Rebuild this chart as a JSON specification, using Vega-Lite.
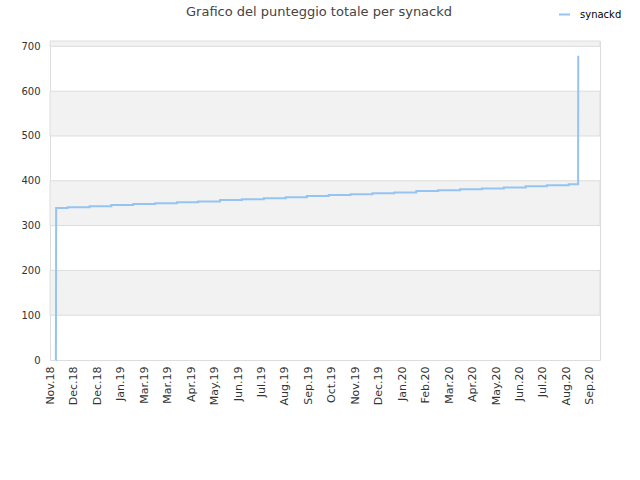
{
  "$schema": "https://vega.github.io/schema/vega-lite/v6.json",
  "width": 550,
  "height": 319,
  "autosize": {"type": "none"},
  "padding": {"left": 50, "top": 41, "right": 40, "bottom": 120},
  "background": "white",
  "title": {
    "text": "Grafico del punteggio totale per synackd",
    "font": "DejaVu Sans",
    "fontSize": 13,
    "fontWeight": "normal",
    "color": "#444444",
    "anchor": "middle",
    "baseline": "alphabetic",
    "offset": 0,
    "dy": 21,
    "dx": -6
  },
  "config": {
    "view": {"stroke": "#dddddd", "strokeWidth": 1},
    "font": "DejaVu Sans"
  },
  "datasets": {
    "bands": [
      {"lo": 100, "hi": 200},
      {"lo": 300, "hi": 400},
      {"lo": 500, "hi": 600},
      {"lo": 700, "hi": 712}
    ],
    "scores": [
      {"date": "2018-11-08T00:00:00", "score": 0, "player": "synackd"},
      {"date": "2018-11-08T01:00:00", "score": 42, "player": "synackd"},
      {"date": "2018-11-08T02:00:00", "score": 69, "player": "synackd"},
      {"date": "2018-11-08T03:00:00", "score": 98, "player": "synackd"},
      {"date": "2018-11-08T04:00:00", "score": 131, "player": "synackd"},
      {"date": "2018-11-08T05:00:00", "score": 167, "player": "synackd"},
      {"date": "2018-11-08T06:00:00", "score": 200, "player": "synackd"},
      {"date": "2018-11-08T07:00:00", "score": 247, "player": "synackd"},
      {"date": "2018-11-08T08:00:00", "score": 292, "player": "synackd"},
      {"date": "2018-11-08T09:00:00", "score": 339, "player": "synackd"},
      {"date": "2018-11-23T00:00:00", "score": 341, "player": "synackd"},
      {"date": "2018-12-21T00:00:00", "score": 343, "player": "synackd"},
      {"date": "2019-01-18T00:00:00", "score": 346, "player": "synackd"},
      {"date": "2019-02-15T00:00:00", "score": 348, "player": "synackd"},
      {"date": "2019-03-15T00:00:00", "score": 350, "player": "synackd"},
      {"date": "2019-04-12T00:00:00", "score": 352, "player": "synackd"},
      {"date": "2019-05-09T00:00:00", "score": 354, "player": "synackd"},
      {"date": "2019-06-06T00:00:00", "score": 357, "player": "synackd"},
      {"date": "2019-07-04T00:00:00", "score": 359, "player": "synackd"},
      {"date": "2019-08-01T00:00:00", "score": 361, "player": "synackd"},
      {"date": "2019-08-29T00:00:00", "score": 363, "player": "synackd"},
      {"date": "2019-09-25T00:00:00", "score": 366, "player": "synackd"},
      {"date": "2019-10-23T00:00:00", "score": 368, "player": "synackd"},
      {"date": "2019-11-20T00:00:00", "score": 370, "player": "synackd"},
      {"date": "2019-12-18T00:00:00", "score": 372, "player": "synackd"},
      {"date": "2020-01-15T00:00:00", "score": 374, "player": "synackd"},
      {"date": "2020-02-12T00:00:00", "score": 377, "player": "synackd"},
      {"date": "2020-03-11T00:00:00", "score": 379, "player": "synackd"},
      {"date": "2020-04-08T00:00:00", "score": 381, "player": "synackd"},
      {"date": "2020-05-06T00:00:00", "score": 383, "player": "synackd"},
      {"date": "2020-06-03T00:00:00", "score": 385, "player": "synackd"},
      {"date": "2020-07-01T00:00:00", "score": 388, "player": "synackd"},
      {"date": "2020-07-28T00:00:00", "score": 390, "player": "synackd"},
      {"date": "2020-08-25T00:00:00", "score": 392, "player": "synackd"},
      {"date": "2020-09-06T00:00:00", "score": 445, "player": "synackd"},
      {"date": "2020-09-06T01:00:00", "score": 497, "player": "synackd"},
      {"date": "2020-09-06T02:00:00", "score": 557, "player": "synackd"},
      {"date": "2020-09-06T03:00:00", "score": 617, "player": "synackd"},
      {"date": "2020-09-06T04:00:00", "score": 679, "player": "synackd"}
    ]
  },
  "layer": [
    {
      "data": {"name": "bands"},
      "mark": {"type": "rect", "fill": "#f2f2f2", "stroke": "#dddddd", "strokeWidth": 1},
      "encoding": {
        "y": {
          "field": "lo",
          "type": "quantitative",
          "scale": {"domain": [0, 712], "nice": false},
          "axis": {
            "title": null,
            "values": [0, 100, 200, 300, 400, 500, 600, 700],
            "labelPadding": 10,
            "labelFont": "DejaVu Sans",
            "labelFontSize": 10,
            "labelColor": "#333333",
            "ticks": false,
            "grid": false,
            "domain": false
          }
        },
        "y2": {"field": "hi"}
      }
    },
    {
      "data": {"name": "scores"},
      "mark": {"type": "line", "interpolate": "step-after", "strokeWidth": 2},
      "encoding": {
        "x": {
          "field": "date",
          "type": "temporal",
          "scale": {"domain": [
            {"year": 2018, "month": 10, "date": 31, "hours": 12},
            {"year": 2020, "month": 10, "date": 4}
          ]},
          "axis": {
            "title": null,
            "values": [
              {"year": 2018, "month": 11, "date": 1},
              {"year": 2018, "month": 12, "date": 1},
              {"year": 2018, "month": 12, "date": 31},
              {"year": 2019, "month": 1, "date": 30},
              {"year": 2019, "month": 3, "date": 1},
              {"year": 2019, "month": 3, "date": 31},
              {"year": 2019, "month": 4, "date": 30},
              {"year": 2019, "month": 5, "date": 30},
              {"year": 2019, "month": 6, "date": 29},
              {"year": 2019, "month": 7, "date": 29},
              {"year": 2019, "month": 8, "date": 28},
              {"year": 2019, "month": 9, "date": 27},
              {"year": 2019, "month": 10, "date": 27},
              {"year": 2019, "month": 11, "date": 26},
              {"year": 2019, "month": 12, "date": 26},
              {"year": 2020, "month": 1, "date": 25},
              {"year": 2020, "month": 2, "date": 24},
              {"year": 2020, "month": 3, "date": 25},
              {"year": 2020, "month": 4, "date": 24},
              {"year": 2020, "month": 5, "date": 24},
              {"year": 2020, "month": 6, "date": 23},
              {"year": 2020, "month": 7, "date": 23},
              {"year": 2020, "month": 8, "date": 22},
              {"year": 2020, "month": 9, "date": 21}
            ],
            "format": "%b.%y",
            "labelAngle": -90,
            "labelAlign": "right",
            "labelBaseline": "middle",
            "labelPadding": 6,
            "labelFont": "DejaVu Sans",
            "labelFontSize": 11,
            "labelColor": "#333333",
            "labelOverlap": false,
            "ticks": false,
            "grid": false,
            "domain": false
          }
        },
        "y": {
          "field": "score",
          "type": "quantitative",
          "scale": {"domain": [0, 712], "nice": false},
          "axis": {
            "title": null,
            "values": [0, 100, 200, 300, 400, 500, 600, 700],
            "labelPadding": 10,
            "labelFont": "DejaVu Sans",
            "labelFontSize": 10,
            "labelColor": "#333333",
            "ticks": false,
            "grid": false,
            "domain": false
          }
        },
        "color": {
          "field": "player",
          "type": "nominal",
          "scale": {"range": ["#95c4f2"]},
          "legend": {
            "title": null,
            "orient": "none",
            "legendX": 508,
            "legendY": -33,
            "padding": 0,
            "labelFont": "DejaVu Sans",
            "labelFontSize": 10,
            "labelColor": "#000000",
            "symbolType": "stroke",
            "symbolStrokeWidth": 2,
            "symbolSize": 120,
            "labelOffset": 9
          }
        }
      }
    }
  ]
}
